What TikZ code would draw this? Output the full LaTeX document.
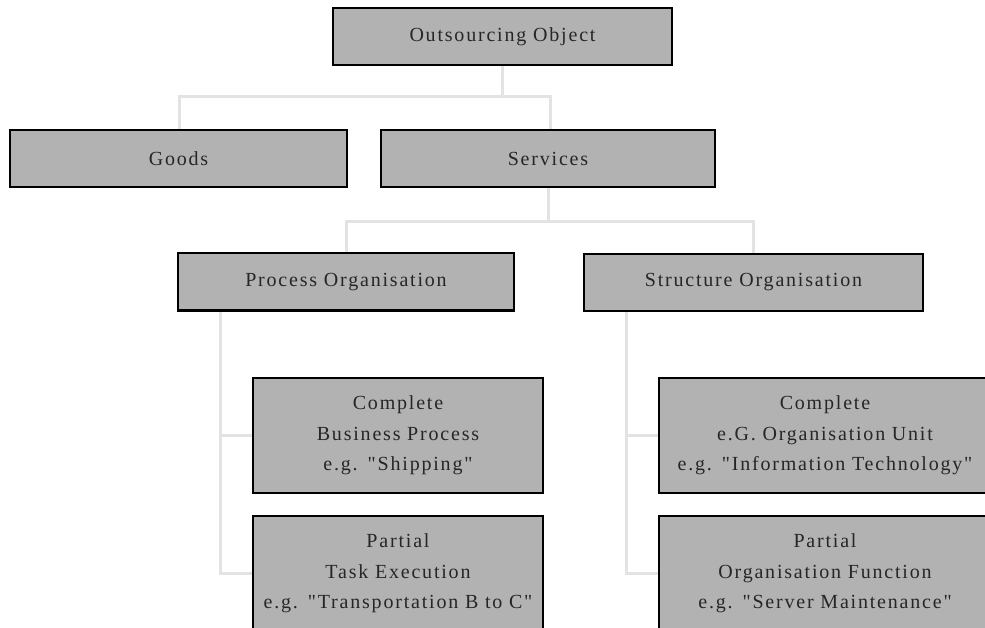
\documentclass[tikz,border=0pt]{standalone}
\usepackage{fontspec}
\newfontfamily\boxfont{Liberation Serif}[LetterSpace=9]
\usetikzlibrary{backgrounds}
\tikzset{
	box/.style={draw=black, line width=2pt, fill=black!30, inner sep=0pt,
		minimum width=337pt, minimum height=57pt, align=center,
		font=\boxfont\fontsize{20}{30.5}\selectfont, text=black!85},
	leaf/.style={box, text width=288pt, minimum width=290pt, minimum height=115pt},
	conn/.style={draw=black!11, line width=3pt}
}
\begin{document}
\begin{tikzpicture}[x=1pt,y=-1pt]
	\useasboundingbox (0,0) rectangle (985,628);
	\clip (0,0) rectangle (985,628);
	\node[box, minimum width=339pt] at (502.5,36.5) (obj) {Outsourcing Object};
	\node[box] at (178.5,158.5) (goods) {Goods};
	\node[box, minimum width=334pt] at (548,158.5) (serv) {Services};
	\node[box, minimum width=336pt] at (346,282) (proc) {Process Organisation};
	\node[box, minimum width=339pt] at (753.5,282.5) (struc) {Structure Organisation};
	\node[leaf] at (398,435.5) (bp) {Complete\\Business Process\\e.g. "Shipping"};
	\node[leaf] at (398,573.5) (task) {Partial\\Task Execution\\e.g. "Transportation B to C"};
	\node[leaf, text width=330pt, minimum width=332pt] at (825,435.5) (unit) {Complete\\e.G. Organisation Unit\\e.g. "Information Technology"};
	\node[leaf, text width=330pt, minimum width=332pt] at (825,573.5) (func) {Partial\\Organisation Function\\e.g. "Server Maintenance"};
	\coordinate (j1) at (502.5,97);
	\coordinate (j2) at (548,222);
	\begin{scope}[on background layer]
	\draw[conn] ([xshift=1pt]goods.north) |- (j1) -| ([xshift=2pt]serv.north);
	\draw[conn] (obj.south) -- (j1);
	\draw[conn] (proc.north) |- (j2) -| (struc.north);
	\draw[conn] (serv.south) -- (j2);
	\draw[conn] ([xshift=43pt]proc.south west) |- (bp.west);
	\draw[conn] ([xshift=43pt]proc.south west) |- (task.west);
	\draw[conn] ([xshift=43pt]struc.south west) |- (unit.west);
	\draw[conn] ([xshift=43pt]struc.south west) |- (func.west);
	\end{scope}
\end{tikzpicture}
\end{document}
